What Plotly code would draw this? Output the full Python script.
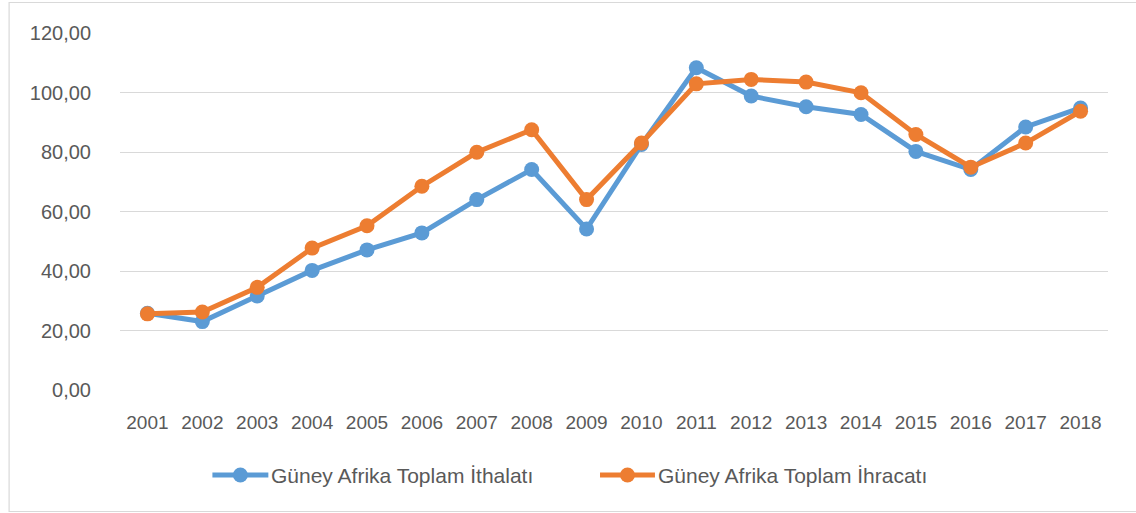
import plotly.graph_objects as go

years = [str(y) for y in range(2001, 2019)]
ithalat = [25.8, 23.0, 31.6, 40.2, 47.1, 52.8, 64.0, 74.1, 54.1, 82.5,
           108.3, 98.8, 95.2, 92.6, 80.2, 74.1, 88.4, 94.8]
ihracat = [25.6, 26.2, 34.5, 47.7, 55.2, 68.5, 79.9, 87.5, 64.0, 83.0,
           102.9, 104.4, 103.5, 99.9, 85.9, 74.9, 83.0, 93.7]

y_ticks = [0, 20, 40, 60, 80, 100, 120]
y_tick_text = ["0,00", "20,00", "40,00", "60,00", "80,00", "100,00", "120,00"]

series_names = ["Güney Afrika Toplam İthalatı", "Güney Afrika Toplam İhracatı"]

BLUE = "#5B9BD5"
ORANGE = "#ED7D31"
TEXT = "#595959"
FONT = "Liberation Sans"

W, H = 1136, 513
L, R, T, B = 119.5, 27.5, 33, 123
PW, PH = W - L - R, H - T - B


def px_x(px):
    """Pixel column -> paper x."""
    return (px - L) / PW


def px_y(py):
    """Pixel row -> paper y."""
    return (H - B - py) / PH


fig = go.Figure()
for vals, color, name in [(ithalat, BLUE, series_names[0]),
                          (ihracat, ORANGE, series_names[1])]:
    fig.add_trace(go.Scatter(
        x=years, y=vals, mode="lines+markers", name=name,
        line=dict(color=color, width=5),
        marker=dict(color=color, size=15),
        showlegend=False,
    ))

# Legend drawn as line + dot symbols with text beside them
shapes = [dict(
    type="rect", xref="paper", yref="paper",
    x0=px_x(8.5), x1=px_x(1145), y0=px_y(511.5), y1=px_y(2.5),
    line=dict(color="#D9D9D9", width=1.2), layer="below",
)]
annotations = []
legend_y = 475
for (x0, x1, color, name) in [(212, 268, BLUE, series_names[0]),
                              (600, 655, ORANGE, series_names[1])]:
    shapes.append(dict(
        type="line", xref="paper", yref="paper",
        x0=px_x(x0), x1=px_x(x1), y0=px_y(legend_y), y1=px_y(legend_y),
        line=dict(color=color, width=5),
    ))
    cx = (x0 + x1) / 2
    shapes.append(dict(
        type="circle", xref="paper", yref="paper",
        x0=px_x(cx - 7.5), x1=px_x(cx + 7.5),
        y0=px_y(legend_y + 7.5), y1=px_y(legend_y - 7.5),
        fillcolor=color, line=dict(color=color, width=0),
    ))
    annotations.append(dict(
        xref="paper", yref="paper", x=px_x(x1 + 1), y=px_y(legend_y),
        xanchor="left", yanchor="middle", showarrow=False, text=name,
        font=dict(family=FONT, size=21, color=TEXT),
    ))

fig.update_layout(
    width=W, height=H,
    margin=dict(l=L, r=R, t=T, b=B),
    paper_bgcolor="white", plot_bgcolor="white",
    font=dict(family=FONT, size=19, color=TEXT),
    showlegend=False,
    xaxis=dict(
        type="category", range=[-0.5, len(years) - 0.5],
        showgrid=False, zeroline=False, showline=False,
        ticks="", tickfont=dict(family=FONT, size=19, color=TEXT),
        ticklabelstandoff=19,
    ),
    yaxis=dict(
        range=[0, 120], tickvals=y_ticks, ticktext=y_tick_text,
        showgrid=True, gridcolor="#D9D9D9", gridwidth=1.2,
        zeroline=False, showline=False, ticks="",
        tickfont=dict(family=FONT, size=20, color=TEXT),
        ticklabelstandoff=28,
    ),
    shapes=shapes,
    annotations=annotations,
)

fig.write_html("out.html")
